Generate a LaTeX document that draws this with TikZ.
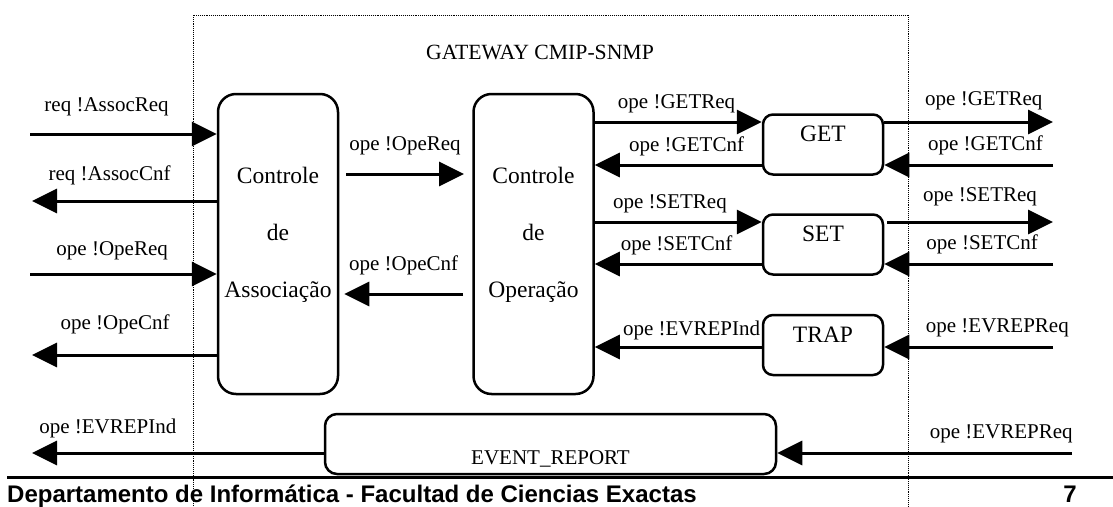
\documentclass[tikz,border=0pt]{standalone}
\usepackage{fontspec}
\setmainfont{Liberation Serif}
\newfontfamily\footfont{Liberation Sans}
\usetikzlibrary{arrows.meta,positioning}

\begin{document}
\begin{tikzpicture}[x=1pt,y=-1pt,
       ctrlbox/.style 2 args = {rectangle, draw, line width=2.5pt, rounded corners=#2,
                                minimum width=120pt, minimum height=#1, inner sep=0pt},
       boxtext/.style = {font=\fontsize{23.5}{57}\selectfont, align=center, inner sep=0pt},
       sig/.style = {line width=3pt, -{Triangle[length=25pt,width=24pt]}},
       lbl/.style = {font=\fontsize{21}{25}\selectfont, inner sep=0pt, anchor=south, yshift=#1},
       lbl/.default = 8.6pt]
	\useasboundingbox (0,0) rectangle (1113,506);
	%% Gateway frame
	\draw[densely dotted, line width=0.9pt] (193,506) |- (908,15) -- (908,506);
	\node[font=\fontsize{21.7}{26}\selectfont, inner sep=0pt] (title) at (540,52) {GATEWAY CMIP-SNMP};
	%% Blocks
	\node[ctrlbox={300pt}{18pt}, label={[boxtext,below=74pt]north:{Controle\\de\\Associação}}] (assoc) at (278,244) {};
	\node[ctrlbox={300pt}{18pt}, label={[boxtext,below=74pt]north:{Controle\\de\\Operação}}] (oper) at (533.5,244) {};
	\node[ctrlbox={60pt}{10pt}, label={[boxtext,below=12pt]north:GET}] (get) at (823,144.5) {};
	\node[ctrlbox={60pt}{10pt}, label={[boxtext,below=12pt]north:SET}] (set) at (823,244.5) {};
	\node[ctrlbox={60pt}{10pt}, label={[boxtext,below=13pt]north:TRAP}] (trap) at (823,345) {};
	\node[ctrlbox={60pt}{12pt}, minimum width=451pt,
	      label={[boxtext,font=\fontsize{21}{25}\selectfont,below=38pt]north:EVENT\_REPORT}] (event) at (550.5,444) {};
	%% Signal rows
	\coordinate (row-getreq) at (0,122);
	\coordinate (row-getcnf) at (0,165);
	\coordinate (row-setreq) at (0,222);
	\coordinate (row-setcnf) at (0,264);
	\coordinate (row-trap) at (0,347);
	\coordinate (row-ev) at (0,453);
	\coordinate (x-out) at (1053,0);
	\coordinate (x-ev) at (1072,0);
	%% Left side
	\coordinate (l-areq) at (30,134);
	\coordinate (l-acnf) at (32,201);
	\coordinate (l-oreq) at (30,274);
	\coordinate (l-ocnf) at (32,355);
	\draw[sig] (l-areq) -- (l-areq -| assoc.west) node[lbl=16.6pt, pos=0.41] {req !AssocReq};
	\draw[sig] (l-acnf -| assoc.west) -- (l-acnf) node[lbl=14.6pt, pos=0.58] {req !AssocCnf};
	\draw[sig] (l-oreq) -- (l-oreq -| assoc.west) node[lbl=12.6pt, pos=0.44] {ope !OpeReq};
	\draw[sig] (l-ocnf -| assoc.west) -- (l-ocnf) node[lbl=19.6pt, pos=0.55] {ope !OpeCnf};
	\draw[sig] (event.west |- row-ev) -- (l-acnf |- row-ev) node[lbl=13.6pt, pos=0.74] {ope !EVREPInd};
	%% Between the controls
	\coordinate (m-oreq) at (346,174);
	\coordinate (m-ocnf) at (463,294);
	\draw[sig] (m-oreq) -- ++(118,0) node[lbl=17.6pt, pos=0.5] {ope !OpeReq};
	\draw[sig] (m-ocnf) -- ([xshift=5pt]m-ocnf -| assoc.east) node[lbl=17.6pt, pos=0.5] {ope !OpeCnf};
	%% Operation control and primitives
	\draw[sig] (oper.east |- row-getreq) -- (get.west |- row-getreq) node[lbl=7.6pt, pos=0.49] {ope !GETReq};
	\draw[sig] (get.west |- row-getcnf) -- (oper.east |- row-getcnf) node[lbl=7.6pt, pos=0.45] {ope !GETCnf};
	\draw[sig] (oper.east |- row-setreq) -- (set.west |- row-setreq) node[lbl=7.6pt, pos=0.45] {ope !SETReq};
	\draw[sig] (set.west |- row-setcnf) -- (oper.east |- row-setcnf) node[lbl=7.6pt, pos=0.51] {ope !SETCnf};
	\draw[sig] (trap.west |- row-trap) -- (oper.east |- row-trap) node[lbl=5.6pt, pos=0.42] {ope !EVREPInd};
	%% Right side
	\draw[sig] (get.east |- row-getreq) -- (x-out |- row-getreq) node[lbl=10.6pt, pos=0.59] {ope !GETReq};
	\draw[sig] (x-out |- row-getcnf) -- (get.east |- row-getcnf) node[lbl, pos=0.40] {ope !GETCnf};
	\draw[sig] ([xshift=3pt]set.east |- row-setreq) -- (x-out |- row-setreq) node[lbl=14.6pt, pos=0.56] {ope !SETReq};
	\draw[sig] (x-out |- row-setcnf) -- (set.east |- row-setcnf) node[lbl, pos=0.42] {ope !SETCnf};
	\draw[sig] (x-out |- row-trap) -- (trap.east |- row-trap) node[lbl, pos=0.33] {ope !EVREPReq};
	\draw[sig] (x-ev |- row-ev) -- (event.east |- row-ev) node[lbl, pos=0.24] {ope !EVREPReq};
	%% Footer
	\coordinate (rule-l) at (7,477);
	\coordinate (rule-r) at (1113,477);
	\draw[line width=3pt] (rule-l) -- (rule-r);
	\node[font=\footfont\bfseries\fontsize{24}{28}\selectfont, anchor=base west, inner sep=0pt] (dept) at (7,502)
	     {Departamento de Informática - Facultad de Ciencias Exactas};
	\node[font=\footfont\bfseries\fontsize{24}{28}\selectfont, anchor=base, inner sep=0pt] (page) at (1070,502) {7};
\end{tikzpicture}
\end{document}
